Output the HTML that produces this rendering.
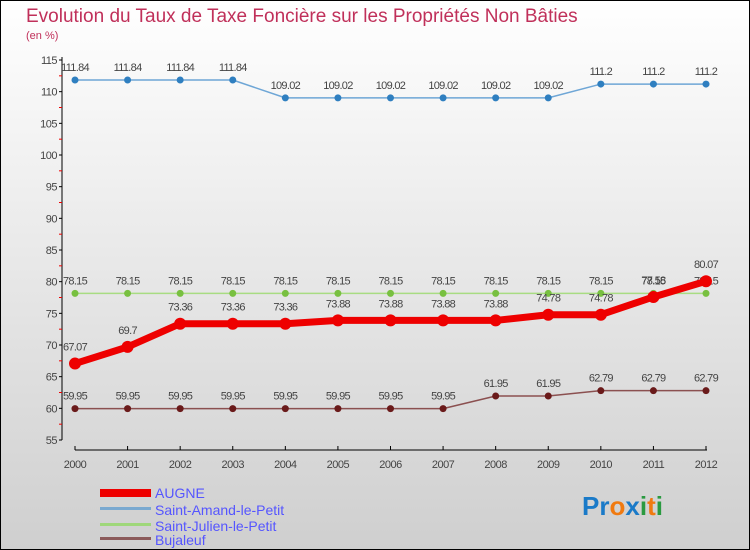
<!DOCTYPE html>
<html><head><meta charset="utf-8"><style>
body{margin:0}
svg{display:block;font-family:"Liberation Sans",sans-serif}
</style></head><body>
<svg id="c" width="750" height="550">
<defs><linearGradient id="bg" x1="0" y1="0" x2="0" y2="1"><stop offset="0" stop-color="#ffffff"/><stop offset="1" stop-color="#cfcfcf"/></linearGradient></defs>
<rect x="0.5" y="0.5" width="749" height="549" fill="url(#bg)" stroke="#000"/>
<text x="26" y="22" font-size="19" fill="#c0305a">Evolution du Taux de Taxe Foncière sur les Propriétés Non Bâties</text>
<text x="26" y="39" font-size="11" fill="#c0305a">(en %)</text>
<g id="axes"></g><g id="series"></g>
<g>
<rect x="100" y="489" width="51" height="8" fill="#e00"/>
<text x="155" y="498" font-size="14" fill="#55f">AUGNE</text>
<rect x="100" y="507" width="51" height="3" fill="#7aa9d0"/>
<text x="155" y="515" font-size="14" fill="#55f">Saint-Amand-le-Petit</text>
<rect x="100" y="523" width="51" height="3" fill="#9fd77a"/>
<text x="155" y="531" font-size="14" fill="#55f">Saint-Julien-le-Petit</text>
<rect x="100" y="537" width="51" height="3" fill="#8b5a5a"/>
<text x="155" y="545" font-size="14" fill="#55f">Bujaleuf</text>
</g>
<text x="582" y="515" font-size="26" font-weight="bold"><tspan fill="#1a7ac8">Pr</tspan><tspan fill="#f07a10">o</tspan><tspan fill="#1a7ac8">x</tspan><tspan fill="#2a9a40">i</tspan><tspan fill="#f07a10">t</tspan><tspan fill="#2a9a40">i</tspan></text>
</svg>
<script>
const years=[2000,2001,2002,2003,2004,2005,2006,2007,2008,2009,2010,2011,2012];
const yTicks=[55,60,65,70,75,80,85,90,95,100,105,110,115];
const augne=[67.07,69.7,73.36,73.36,73.36,73.88,73.88,73.88,73.88,74.78,74.78,77.58,80.07];
const amand=[111.84,111.84,111.84,111.84,109.02,109.02,109.02,109.02,109.02,109.02,111.2,111.2,111.2];
const julien=[78.15,78.15,78.15,78.15,78.15,78.15,78.15,78.15,78.15,78.15,78.15,78.15,78.15];
const bujaleuf=[59.95,59.95,59.95,59.95,59.95,59.95,59.95,59.95,61.95,61.95,62.79,62.79,62.79];
const NS="http://www.w3.org/2000/svg";
const xs=i=>75+i*(706-75)/(years.length-1);
const ys=v=>440-(v-55)*380/60;
function mk(t,a,p){const e=document.createElementNS(NS,t);for(const k in a)e.setAttribute(k,a[k]);p.appendChild(e);return e;}
const ax=document.getElementById('axes');
let yl=mk('line',{x1:62,y1:57,x2:62,y2:440,stroke:'#000','stroke-width':1},ax);


let xl=mk('line',{x1:75,y1:450,x2:707,y2:450,stroke:'#000','stroke-width':1},ax);


yTicks.forEach((v,i)=>{
 mk('line',{x1:59,x2:62,y1:ys(v),y2:ys(v),stroke:'#000'},ax);
 if(i<yTicks.length-1)mk('line',{x1:59,x2:62,y1:ys(v+2.5),y2:ys(v+2.5),stroke:'#e00'},ax);
 const t=mk('text',{x:57,y:ys(v)+4,'font-size':11,'text-anchor':'end',fill:'#444','letter-spacing':'-0.5'},ax);
 t.textContent=v;
 
 
});
years.forEach((y,i)=>{
 mk('line',{x1:xs(i),x2:xs(i),y1:446,y2:450,stroke:'#000'},ax);
 const t=mk('text',{x:xs(i),y:468,'font-size':11,'text-anchor':'middle',fill:'#444','letter-spacing':'-0.5'},ax);
 t.textContent=y;
 
 
});
const sg=document.getElementById('series');
function draw(name,data,color,w,r,dot,labelDy){
 const g=mk('g',{},sg);
 
 
 const p=mk('polyline',{points:data.map((v,i)=>xs(i)+','+ys(v)).join(' '),fill:'none',stroke:color,'stroke-width':w,'stroke-linejoin':'round'},g);
 
 
 data.forEach((v,i)=>{
  const c=mk('circle',{cx:xs(i),cy:ys(v),r:r,fill:dot},g);
  
  
  const t=mk('text',{x:xs(i),y:ys(v)+labelDy,'font-size':11,'text-anchor':'middle',fill:'#444','letter-spacing':'-0.7'},g);
  t.textContent=String(v);
  
  
 });
}
draw('saint-amand',amand,'#6ea6d6',1.5,3.5,'#2f7fc0',-9);
draw('saint-julien',julien,'#a8dc82',1.5,3.5,'#78c040',-9);
draw('bujaleuf',bujaleuf,'#8b5050',1.5,3.5,'#6a1a1a',-9);
draw('augne',augne,'#ee0000',7,6,'#ee0000',-13);
</script>
</body></html>
